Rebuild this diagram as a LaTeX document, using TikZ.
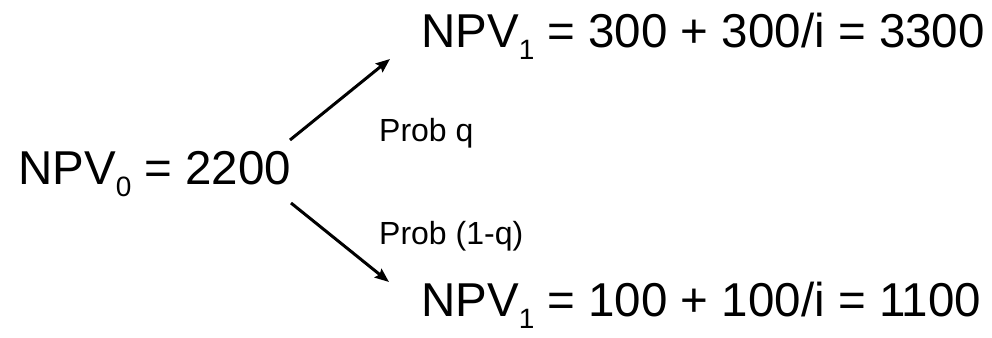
\documentclass[tikz,border=0pt]{standalone}
\usepackage{fontspec}
\setmainfont{Liberation Sans}
\usetikzlibrary{arrows.meta}
\newcommand{\bigsub}[1]{\raisebox{-12pt}{\fontsize{28}{28}\selectfont #1}}
\begin{document}
\begin{tikzpicture}[x=1pt,y=1pt,
  big/.style={inner sep=0pt,anchor=base west,font=\fontsize{47.5}{50}\selectfont},
  small/.style={inner sep=0pt,anchor=base west,font=\fontsize{32}{34}\selectfont},
  arr/.style={line width=3pt,-{Stealth[length=14pt,width=11pt,inset=2pt]}}]
\useasboundingbox (0,0) rectangle (992,337);
\node[big] (n0) at (18,152) {NPV\bigsub{0} = 2200};
\node[big] (n1) at (421,289) {NPV\bigsub{1} = 300 + 300/i = 3300};
\node[big] (n2) at (421,20) {NPV\bigsub{1} = 100 + 100/i = 1100};
\node[small] (pq) at (379,195) {Prob q};
\node[small] (pnq) at (379,92) {Prob (1-q)};
\coordinate (u0) at (290,197);
\coordinate (u1) at (390,278);
\coordinate (d0) at (291,134);
\coordinate (d1) at (389,55);
\draw[arr] (u0) -- (u1);
\draw[arr] (d0) -- (d1);
\end{tikzpicture}
\end{document}
